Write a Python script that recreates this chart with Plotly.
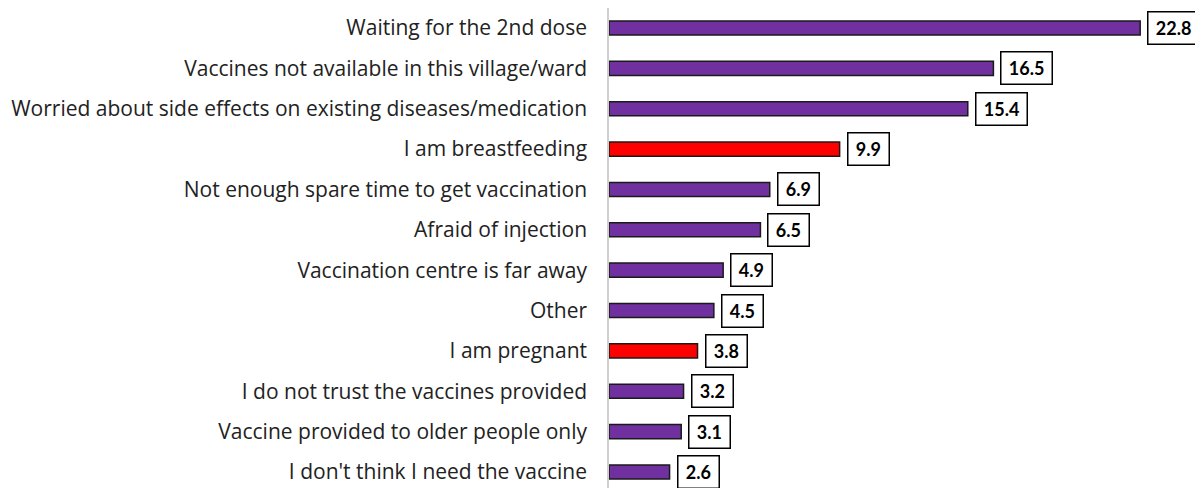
import plotly.graph_objects as go

categories = [
    "Waiting for the 2nd dose",
    "Vaccines not available in this village/ward",
    "Worried about side effects on existing diseases/medication",
    "I am breastfeeding",
    "Not enough spare time to get vaccination",
    "Afraid of injection",
    "Vaccination centre is far away",
    "Other",
    "I am pregnant",
    "I do not trust the vaccines provided",
    "Vaccine provided to older people only",
    "I don't think I need the vaccine",
]
values = [22.8, 16.5, 15.4, 9.9, 6.9, 6.5, 4.9, 4.5, 3.8, 3.2, 3.1, 2.6]
highlight = ["I am breastfeeding", "I am pregnant"]

PURPLE = "#7030A0"
RED = "#FF0000"
colors = [RED if c in highlight else PURPLE for c in categories]

LABEL_FONT = "Open Sans, sans-serif"
VALUE_FONT = "Lato, sans-serif"

fig = go.Figure()
fig.add_trace(go.Bar(
    x=values, y=categories, orientation="h",
    marker=dict(color=colors, line=dict(color="#1a1a1a", width=1.5)),
    width=0.35, hoverinfo="skip",
))

for c, v in zip(categories, values):
    txt = f"{v:.1f}"
    ndig = sum(ch.isdigit() for ch in txt)
    fig.add_annotation(
        x=v, y=c, text=f"<b>{txt}</b>", showarrow=False,
        xanchor="left", yanchor="middle", xshift=7, yshift=0,
        font=dict(family=VALUE_FONT, size=18, color="black"),
        width=10.4 * ndig + 11, height=23,
        bgcolor="white", bordercolor="black", borderwidth=1.5, borderpad=4,
    )

fig.update_layout(
    width=1203, height=488,
    margin=dict(l=601, r=0, t=0, b=0),
    plot_bgcolor="white", paper_bgcolor="white",
    showlegend=False,
    font=dict(family=LABEL_FONT, size=21, color="#222222"),
    xaxis=dict(range=[0, 25.84], visible=False, showgrid=False, zeroline=False),
    yaxis=dict(
        categoryorder="array", categoryarray=categories,
        range=[11.595, -0.4955], showgrid=False, zeroline=False,
        showline=True, linecolor="#D0D0D0", linewidth=1.5,
        ticks="", ticklabelstandoff=16,
        tickfont=dict(family=LABEL_FONT, size=21, color="#222222"),
    ),
)

fig.write_html("out.html")
